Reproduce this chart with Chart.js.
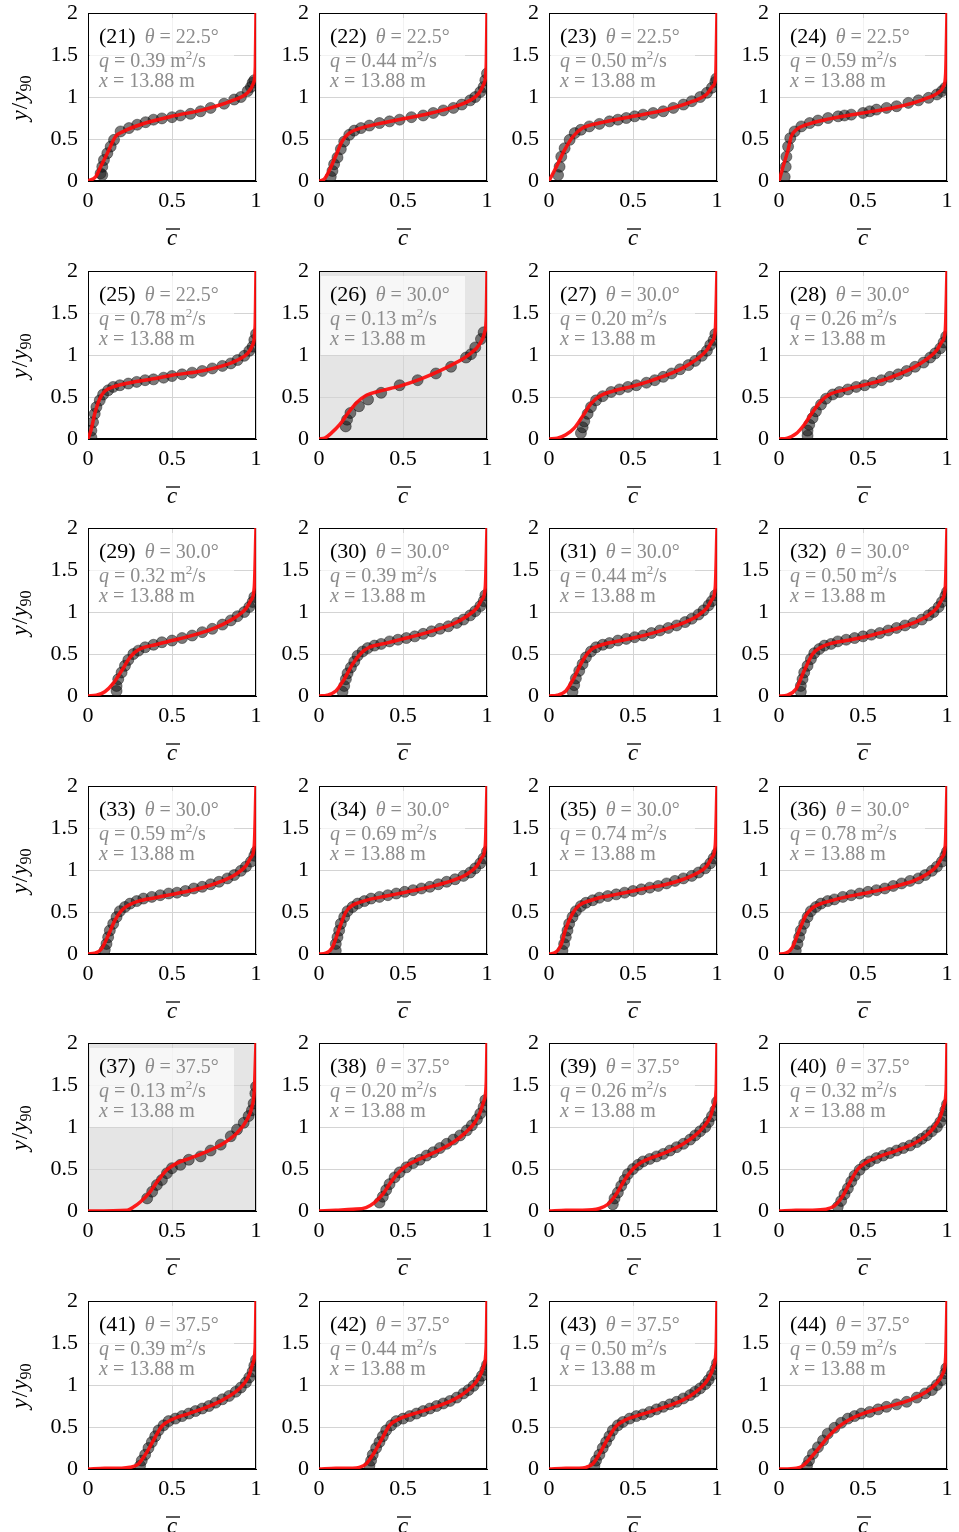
<!DOCTYPE html>
<html><head><meta charset="utf-8">
<script src="https://cdn.jsdelivr.net/npm/chart.js@4.4.0/dist/chart.umd.min.js"></script>
<style>
body{margin:0;background:#fff;width:959px;height:1532px;position:relative;overflow:hidden}
canvas{position:absolute}
</style></head><body>
<script>
// ---------- labels ----------
const panelIds = [21,22,23,24,25,26,27,28,29,30,31,32,33,34,35,36,37,38,39,40,41,42,43,44];
const thetas = ['22.5','22.5','22.5','22.5','22.5','30.0','30.0','30.0','30.0','30.0','30.0','30.0','30.0','30.0','30.0','30.0','37.5','37.5','37.5','37.5','37.5','37.5','37.5','37.5'];
const flowRates = ['0.39','0.44','0.50','0.59','0.78','0.13','0.20','0.26','0.32','0.39','0.44','0.50','0.59','0.69','0.74','0.78','0.13','0.20','0.26','0.32','0.39','0.44','0.50','0.59'];
const stations = Array(24).fill('13.88');
const greyPanels = [26, 37];
const xTicks = [0, 0.5, 1];
const yTicks = [0, 0.5, 1, 1.5, 2];

// ---------- red model curves (c, y/y90) ----------
const curve21 = [[0,0],[0.046,0.05],[0.075,0.17],[0.115,0.33],[0.164,0.53],[0.21,0.59],[0.31,0.67],[0.5,0.77],[0.69,0.85],[0.85,0.95],[0.95,1.05],[0.986,1.17],[0.996,1.36],[1,2]];
const curve22 = [[0,0],[0.03,0.02],[0.06,0.12],[0.1,0.3],[0.14,0.48],[0.18,0.57],[0.25,0.63],[0.35,0.68],[0.5,0.74],[0.65,0.8],[0.8,0.88],[0.9,0.96],[0.95,1.04],[0.98,1.15],[0.995,1.35],[1,2]];
const curve23 = [[0,0],[0.044,0.17],[0.093,0.37],[0.143,0.53],[0.2,0.63],[0.3,0.69],[0.5,0.77],[0.7,0.85],[0.857,0.95],[0.937,1.03],[0.976,1.13],[0.992,1.24],[1,2]];
const curve24 = [[0,0],[0.024,0.17],[0.054,0.37],[0.073,0.53],[0.103,0.61],[0.163,0.67],[0.3,0.74],[0.5,0.81],[0.7,0.88],[0.857,0.97],[0.946,1.05],[0.98,1.13],[0.992,1.28],[1,2]];
const curve25 = [[0,0],[0.02,0.12],[0.04,0.3],[0.07,0.48],[0.1,0.57],[0.15,0.62],[0.25,0.67],[0.4,0.72],[0.5,0.76],[0.65,0.8],[0.8,0.87],[0.9,0.95],[0.95,1.02],[0.98,1.12],[0.995,1.35],[1,2]];
const curve26 = [[0,0],[0.034,0.01],[0.073,0.07],[0.123,0.17],[0.173,0.31],[0.222,0.43],[0.282,0.52],[0.36,0.57],[0.48,0.63],[0.6,0.71],[0.718,0.81],[0.817,0.91],[0.897,1.01],[0.956,1.13],[0.986,1.27],[0.996,1.47],[1,2]];
const curve27 = [[0,0],[0.05,0.01],[0.1,0.05],[0.15,0.13],[0.2,0.27],[0.25,0.42],[0.3,0.51],[0.38,0.57],[0.5,0.63],[0.6,0.69],[0.7,0.76],[0.8,0.85],[0.88,0.95],[0.94,1.06],[0.97,1.16],[0.99,1.3],[1,2]];
const curve28 = [[0,0],[0.05,0.01],[0.1,0.06],[0.15,0.17],[0.2,0.32],[0.25,0.45],[0.3,0.53],[0.4,0.59],[0.5,0.64],[0.6,0.69],[0.7,0.76],[0.8,0.85],[0.88,0.95],[0.94,1.06],[0.97,1.16],[0.99,1.3],[1,2]];
const curve29 = [[0,0],[0.05,0.01],[0.1,0.05],[0.15,0.15],[0.2,0.3],[0.25,0.46],[0.3,0.55],[0.4,0.61],[0.5,0.66],[0.6,0.71],[0.7,0.77],[0.8,0.85],[0.88,0.94],[0.94,1.04],[0.97,1.14],[0.99,1.3],[1,2]];
const curve30 = [[0,0],[0.05,0.01],[0.1,0.06],[0.15,0.2],[0.2,0.38],[0.25,0.51],[0.3,0.58],[0.4,0.63],[0.5,0.68],[0.6,0.73],[0.7,0.79],[0.8,0.86],[0.88,0.95],[0.94,1.05],[0.97,1.15],[0.99,1.3],[1,2]];
const curve31 = [[0,0],[0.05,0.01],[0.1,0.06],[0.15,0.22],[0.2,0.42],[0.25,0.55],[0.3,0.6],[0.4,0.65],[0.5,0.69],[0.6,0.74],[0.7,0.8],[0.8,0.87],[0.88,0.95],[0.94,1.05],[0.97,1.15],[0.99,1.3],[1,2]];
const curve32 = [[0,0],[0.05,0.01],[0.1,0.08],[0.15,0.3],[0.2,0.5],[0.25,0.58],[0.3,0.62],[0.4,0.66],[0.5,0.7],[0.6,0.75],[0.7,0.8],[0.8,0.87],[0.88,0.95],[0.94,1.05],[0.97,1.15],[0.99,1.3],[1,2]];
const curve33 = [[0,0],[0.04,0.01],[0.08,0.06],[0.12,0.22],[0.16,0.4],[0.2,0.52],[0.25,0.59],[0.3,0.63],[0.4,0.67],[0.5,0.71],[0.6,0.75],[0.7,0.8],[0.8,0.87],[0.88,0.95],[0.94,1.05],[0.97,1.15],[0.99,1.3],[1,2]];
const curve34 = [[0,0],[0.04,0.01],[0.08,0.08],[0.12,0.3],[0.16,0.5],[0.2,0.58],[0.25,0.62],[0.3,0.65],[0.4,0.69],[0.5,0.73],[0.6,0.77],[0.7,0.82],[0.8,0.88],[0.88,0.95],[0.94,1.05],[0.97,1.15],[0.99,1.3],[1,2]];
const curve35 = [[0,0],[0.03,0.01],[0.07,0.1],[0.1,0.3],[0.14,0.48],[0.18,0.58],[0.25,0.64],[0.3,0.67],[0.4,0.71],[0.5,0.75],[0.6,0.79],[0.7,0.83],[0.8,0.89],[0.88,0.96],[0.94,1.05],[0.97,1.15],[0.99,1.3],[1,2]];
const curve36 = [[0,0],[0.04,0.01],[0.08,0.08],[0.12,0.28],[0.16,0.46],[0.2,0.55],[0.25,0.6],[0.3,0.63],[0.4,0.68],[0.5,0.72],[0.6,0.76],[0.7,0.81],[0.8,0.87],[0.88,0.95],[0.94,1.05],[0.97,1.15],[0.99,1.3],[1,2]];
const curve37 = [[0,0],[0.234,0.01],[0.273,0.05],[0.313,0.11],[0.362,0.21],[0.42,0.37],[0.47,0.49],[0.53,0.57],[0.61,0.63],[0.71,0.71],[0.81,0.81],[0.887,0.93],[0.947,1.09],[0.976,1.24],[0.99,1.44],[1,2]];
const curve38 = [[0,0],[0.1,0.01],[0.2,0.02],[0.28,0.04],[0.33,0.1],[0.38,0.2],[0.43,0.35],[0.48,0.47],[0.53,0.55],[0.6,0.62],[0.7,0.71],[0.8,0.82],[0.87,0.93],[0.93,1.06],[0.96,1.18],[0.98,1.3],[0.995,1.5],[1,2]];
const curve39 = [[0,0],[0.1,0.01],[0.2,0.01],[0.3,0.03],[0.35,0.08],[0.4,0.2],[0.45,0.37],[0.5,0.5],[0.55,0.58],[0.62,0.64],[0.7,0.7],[0.8,0.8],[0.87,0.9],[0.92,1.0],[0.96,1.12],[0.98,1.25],[0.995,1.45],[1,2]];
const curve40 = [[0,0],[0.1,0.01],[0.2,0.01],[0.28,0.02],[0.33,0.06],[0.38,0.18],[0.43,0.37],[0.47,0.5],[0.52,0.58],[0.6,0.65],[0.7,0.72],[0.8,0.8],[0.87,0.89],[0.92,0.99],[0.96,1.12],[0.98,1.25],[0.995,1.45],[1,2]];
const curve41 = [[0,0],[0.1,0.01],[0.2,0.01],[0.25,0.02],[0.3,0.06],[0.35,0.2],[0.4,0.38],[0.44,0.51],[0.5,0.59],[0.6,0.66],[0.7,0.73],[0.8,0.82],[0.88,0.92],[0.93,1.02],[0.96,1.12],[0.98,1.25],[0.995,1.45],[1,2]];
const curve42 = [[0,0],[0.1,0.01],[0.2,0.01],[0.24,0.02],[0.28,0.06],[0.33,0.2],[0.38,0.38],[0.42,0.52],[0.48,0.6],[0.55,0.65],[0.65,0.71],[0.75,0.78],[0.84,0.87],[0.9,0.96],[0.95,1.08],[0.98,1.22],[0.995,1.45],[1,2]];
const curve43 = [[0,0],[0.1,0.01],[0.18,0.01],[0.22,0.02],[0.26,0.06],[0.3,0.18],[0.35,0.36],[0.4,0.51],[0.45,0.58],[0.55,0.65],[0.65,0.71],[0.75,0.78],[0.84,0.87],[0.9,0.96],[0.95,1.08],[0.98,1.22],[0.995,1.45],[1,2]];
const curve44 = [[0,0],[0.103,0.01],[0.143,0.04],[0.183,0.12],[0.242,0.26],[0.3,0.4],[0.36,0.51],[0.42,0.59],[0.5,0.66],[0.64,0.74],[0.778,0.82],[0.877,0.92],[0.937,1.02],[0.976,1.14],[0.992,1.33],[1,2]];

// ---------- measured points (c, y/y90) ----------
const pts21 = [[0.075,0.09],[0.085,0.07],[0.085,0.17],[0.095,0.25],[0.115,0.33],[0.135,0.41],[0.155,0.49],[0.194,0.59],[0.244,0.63],[0.293,0.67],[0.343,0.7],[0.39,0.73],[0.44,0.745],[0.5,0.76],[0.55,0.78],[0.61,0.8],[0.67,0.83],[0.73,0.87],[0.81,0.92],[0.87,0.97],[0.91,1.0],[0.95,1.07],[0.97,1.12],[0.98,1.17],[0.99,1.2]];
const pts22 = [[0.07,0.05],[0.08,0.12],[0.09,0.2],[0.11,0.28],[0.13,0.38],[0.15,0.47],[0.18,0.55],[0.21,0.6],[0.25,0.63],[0.3,0.66],[0.36,0.69],[0.42,0.71],[0.48,0.73],[0.55,0.76],[0.62,0.78],[0.68,0.81],[0.74,0.84],[0.8,0.87],[0.85,0.91],[0.9,0.96],[0.93,1.0],[0.96,1.06],[0.98,1.12],[0.99,1.2],[1.0,1.28]];
const pts23 = [[0.054,0.07],[0.063,0.17],[0.073,0.29],[0.093,0.39],[0.123,0.49],[0.153,0.57],[0.19,0.61],[0.24,0.65],[0.3,0.68],[0.36,0.71],[0.41,0.73],[0.46,0.75],[0.51,0.77],[0.56,0.79],[0.62,0.81],[0.68,0.83],[0.74,0.87],[0.8,0.91],[0.85,0.95],[0.9,1.0],[0.94,1.05],[0.97,1.11],[0.99,1.18],[0.996,1.22]];
const pts24 = [[0.034,0.05],[0.04,0.17],[0.044,0.29],[0.054,0.41],[0.067,0.51],[0.093,0.59],[0.133,0.65],[0.183,0.69],[0.232,0.72],[0.292,0.75],[0.352,0.77],[0.39,0.78],[0.43,0.79],[0.5,0.81],[0.54,0.83],[0.58,0.85],[0.64,0.87],[0.7,0.89],[0.77,0.93],[0.83,0.96],[0.89,0.99],[0.94,1.03],[0.97,1.07],[0.99,1.11]];
const pts25 = [[0.02,0.02],[0.02,0.1],[0.03,0.2],[0.04,0.3],[0.05,0.38],[0.07,0.46],[0.09,0.53],[0.12,0.58],[0.15,0.62],[0.19,0.64],[0.24,0.66],[0.29,0.68],[0.34,0.7],[0.39,0.71],[0.45,0.73],[0.5,0.75],[0.56,0.77],[0.62,0.79],[0.68,0.81],[0.74,0.84],[0.8,0.87],[0.85,0.9],[0.89,0.94],[0.93,0.99],[0.96,1.05],[0.98,1.1],[0.99,1.18],[1.0,1.25]];
const pts26 = [[0.159,0.15],[0.167,0.23],[0.187,0.31],[0.238,0.39],[0.292,0.47],[0.37,0.55],[0.48,0.64],[0.587,0.7],[0.696,0.78],[0.786,0.86],[0.875,0.97],[0.905,1.01],[0.93,1.09],[0.964,1.19],[0.98,1.27]];
const pts27 = [[0.19,0.07],[0.2,0.14],[0.21,0.21],[0.23,0.3],[0.25,0.38],[0.28,0.46],[0.32,0.51],[0.37,0.56],[0.42,0.59],[0.47,0.62],[0.52,0.64],[0.58,0.67],[0.63,0.7],[0.68,0.74],[0.73,0.78],[0.78,0.83],[0.83,0.88],[0.87,0.93],[0.91,0.99],[0.94,1.05],[0.96,1.12],[0.98,1.18],[0.99,1.25]];
const pts28 = [[0.17,0.04],[0.17,0.1],[0.18,0.17],[0.2,0.25],[0.22,0.33],[0.25,0.41],[0.28,0.48],[0.32,0.53],[0.36,0.56],[0.41,0.59],[0.46,0.62],[0.51,0.64],[0.56,0.67],[0.61,0.7],[0.66,0.74],[0.71,0.77],[0.76,0.81],[0.81,0.86],[0.86,0.91],[0.9,0.97],[0.93,1.02],[0.96,1.08],[0.98,1.15],[0.995,1.22]];
const pts29 = [[0.17,0.06],[0.17,0.12],[0.18,0.2],[0.2,0.28],[0.22,0.36],[0.24,0.43],[0.27,0.5],[0.3,0.54],[0.34,0.58],[0.39,0.61],[0.44,0.64],[0.5,0.66],[0.56,0.69],[0.62,0.72],[0.68,0.76],[0.74,0.8],[0.8,0.85],[0.85,0.9],[0.89,0.95],[0.93,1.0],[0.96,1.06],[0.98,1.12],[0.99,1.18]];
const pts30 = [[0.14,0.05],[0.15,0.12],[0.16,0.2],[0.17,0.27],[0.19,0.34],[0.21,0.41],[0.23,0.48],[0.26,0.53],[0.29,0.57],[0.33,0.6],[0.37,0.62],[0.42,0.65],[0.47,0.67],[0.52,0.69],[0.57,0.71],[0.62,0.74],[0.67,0.77],[0.72,0.8],[0.77,0.83],[0.82,0.87],[0.86,0.91],[0.9,0.96],[0.93,1.01],[0.96,1.07],[0.98,1.13],[0.99,1.2]];
const pts31 = [[0.14,0.05],[0.15,0.13],[0.16,0.21],[0.18,0.3],[0.2,0.38],[0.22,0.46],[0.25,0.53],[0.28,0.58],[0.32,0.61],[0.36,0.63],[0.41,0.66],[0.46,0.68],[0.51,0.7],[0.56,0.72],[0.61,0.75],[0.66,0.78],[0.71,0.81],[0.76,0.84],[0.81,0.88],[0.85,0.92],[0.89,0.97],[0.92,1.02],[0.95,1.08],[0.97,1.13],[0.99,1.2]];
const pts32 = [[0.13,0.05],[0.13,0.12],[0.14,0.2],[0.15,0.28],[0.17,0.36],[0.19,0.44],[0.21,0.51],[0.24,0.56],[0.27,0.6],[0.31,0.62],[0.35,0.65],[0.4,0.67],[0.45,0.69],[0.5,0.71],[0.55,0.73],[0.6,0.75],[0.65,0.78],[0.7,0.81],[0.75,0.84],[0.8,0.87],[0.85,0.91],[0.89,0.96],[0.92,1.0],[0.95,1.06],[0.97,1.12],[0.99,1.19],[1.0,1.24]];
const pts33 = [[0.1,0.05],[0.11,0.12],[0.12,0.2],[0.13,0.28],[0.15,0.36],[0.17,0.44],[0.19,0.51],[0.22,0.56],[0.25,0.6],[0.29,0.63],[0.33,0.66],[0.38,0.68],[0.43,0.7],[0.48,0.72],[0.53,0.73],[0.58,0.75],[0.63,0.78],[0.68,0.8],[0.73,0.83],[0.78,0.86],[0.83,0.9],[0.87,0.94],[0.91,0.99],[0.94,1.04],[0.97,1.1],[0.99,1.17],[1.0,1.22]];
const pts34 = [[0.1,0.04],[0.1,0.12],[0.11,0.2],[0.12,0.28],[0.13,0.36],[0.15,0.44],[0.17,0.51],[0.2,0.56],[0.23,0.6],[0.27,0.63],[0.31,0.66],[0.36,0.68],[0.41,0.7],[0.46,0.72],[0.51,0.74],[0.56,0.76],[0.61,0.78],[0.66,0.8],[0.71,0.83],[0.76,0.86],[0.81,0.89],[0.86,0.93],[0.9,0.97],[0.93,1.02],[0.96,1.08],[0.98,1.14],[1.0,1.22]];
const pts35 = [[0.08,0.04],[0.09,0.12],[0.1,0.2],[0.11,0.28],[0.12,0.36],[0.14,0.44],[0.16,0.51],[0.19,0.57],[0.22,0.61],[0.26,0.64],[0.3,0.67],[0.35,0.69],[0.4,0.71],[0.45,0.73],[0.5,0.75],[0.55,0.77],[0.6,0.79],[0.65,0.81],[0.7,0.84],[0.75,0.87],[0.8,0.9],[0.85,0.93],[0.89,0.97],[0.93,1.02],[0.96,1.08],[0.98,1.14],[1.0,1.2]];
const pts36 = [[0.1,0.04],[0.11,0.12],[0.12,0.2],[0.13,0.28],[0.15,0.36],[0.17,0.44],[0.19,0.51],[0.22,0.56],[0.25,0.6],[0.29,0.63],[0.33,0.65],[0.38,0.68],[0.43,0.7],[0.48,0.72],[0.53,0.74],[0.58,0.76],[0.63,0.78],[0.68,0.81],[0.73,0.84],[0.78,0.87],[0.83,0.9],[0.87,0.94],[0.91,0.99],[0.94,1.04],[0.97,1.1],[0.99,1.17],[1.0,1.22]];
const pts37 = [[0.352,0.15],[0.382,0.23],[0.41,0.31],[0.44,0.37],[0.47,0.45],[0.5,0.51],[0.55,0.55],[0.6,0.61],[0.67,0.65],[0.73,0.72],[0.79,0.79],[0.85,0.89],[0.887,0.97],[0.927,1.05],[0.956,1.13],[0.976,1.2],[0.986,1.28],[0.996,1.4],[1.0,1.48]];
const pts38 = [[0.36,0.1],[0.38,0.17],[0.4,0.25],[0.42,0.32],[0.45,0.4],[0.48,0.46],[0.52,0.52],[0.56,0.57],[0.6,0.61],[0.64,0.66],[0.68,0.7],[0.72,0.75],[0.76,0.8],[0.8,0.85],[0.84,0.9],[0.88,0.96],[0.91,1.02],[0.94,1.09],[0.96,1.16],[0.98,1.24],[0.99,1.32]];
const pts39 = [[0.38,0.08],[0.39,0.15],[0.41,0.22],[0.43,0.3],[0.45,0.37],[0.47,0.44],[0.5,0.5],[0.53,0.55],[0.56,0.59],[0.6,0.62],[0.64,0.65],[0.68,0.68],[0.72,0.72],[0.76,0.76],[0.8,0.8],[0.84,0.85],[0.87,0.9],[0.9,0.95],[0.93,1.0],[0.95,1.06],[0.97,1.13],[0.99,1.2],[1.0,1.3]];
const pts40 = [[0.35,0.05],[0.37,0.12],[0.39,0.2],[0.41,0.27],[0.43,0.35],[0.45,0.42],[0.48,0.49],[0.51,0.55],[0.54,0.59],[0.58,0.63],[0.62,0.66],[0.66,0.69],[0.7,0.72],[0.74,0.75],[0.78,0.78],[0.82,0.82],[0.85,0.86],[0.88,0.9],[0.91,0.95],[0.94,1.0],[0.96,1.06],[0.98,1.13],[0.99,1.2],[1.0,1.27]];
const pts41 = [[0.31,0.04],[0.32,0.1],[0.34,0.17],[0.36,0.25],[0.38,0.32],[0.4,0.39],[0.42,0.46],[0.45,0.52],[0.48,0.57],[0.52,0.6],[0.56,0.63],[0.6,0.66],[0.64,0.69],[0.68,0.72],[0.72,0.75],[0.76,0.79],[0.8,0.83],[0.84,0.87],[0.88,0.92],[0.91,0.97],[0.94,1.03],[0.96,1.09],[0.98,1.16],[0.99,1.23],[1.0,1.3]];
const pts42 = [[0.3,0.04],[0.31,0.1],[0.32,0.17],[0.34,0.25],[0.36,0.32],[0.38,0.39],[0.4,0.46],[0.43,0.52],[0.46,0.57],[0.5,0.6],[0.54,0.63],[0.58,0.66],[0.62,0.69],[0.66,0.72],[0.7,0.75],[0.74,0.78],[0.78,0.81],[0.82,0.85],[0.86,0.9],[0.89,0.94],[0.92,0.99],[0.95,1.05],[0.97,1.11],[0.99,1.18],[1.0,1.24]];
const pts43 = [[0.27,0.04],[0.28,0.1],[0.3,0.17],[0.32,0.25],[0.34,0.32],[0.36,0.39],[0.38,0.46],[0.41,0.52],[0.44,0.56],[0.48,0.6],[0.52,0.63],[0.56,0.65],[0.6,0.68],[0.64,0.71],[0.68,0.74],[0.72,0.77],[0.76,0.8],[0.8,0.84],[0.84,0.88],[0.87,0.92],[0.9,0.96],[0.93,1.01],[0.95,1.06],[0.97,1.12],[0.99,1.19],[1.0,1.26]];
const pts44 = [[0.167,0.04],[0.179,0.1],[0.202,0.18],[0.232,0.26],[0.262,0.34],[0.29,0.42],[0.33,0.49],[0.37,0.55],[0.41,0.6],[0.45,0.63],[0.49,0.66],[0.54,0.68],[0.59,0.71],[0.64,0.74],[0.7,0.77],[0.76,0.8],[0.82,0.85],[0.87,0.9],[0.91,0.94],[0.94,1.0],[0.97,1.06],[0.99,1.14],[0.996,1.2]];

const curves = [curve21,curve22,curve23,curve24,curve25,curve26,curve27,curve28,curve29,curve30,curve31,curve32,curve33,curve34,curve35,curve36,curve37,curve38,curve39,curve40,curve41,curve42,curve43,curve44];
const points = [pts21,pts22,pts23,pts24,pts25,pts26,pts27,pts28,pts29,pts30,pts31,pts32,pts33,pts34,pts35,pts36,pts37,pts38,pts39,pts40,pts41,pts42,pts43,pts44];

// ---------- layout ----------
const colLefts = [88, 319, 549, 779];
const rowTops = [13, 271, 528, 786, 1043, 1301];
const PLOT = 168, AXW = 88, PADT = 13, PADR = 16, AXH = 76;
const SERIF = '"Liberation Serif","Times New Roman",serif';
const GREY = '#8c8c8c';

function drawRuns(ctx, x, y, runs) {
  for (const r of runs) {
    ctx.font = (r.it ? 'italic ' : '') + r.size + 'px ' + SERIF;
    ctx.fillStyle = r.color;
    ctx.fillText(r.t, x, y + (r.dy || 0));
    x += ctx.measureText(r.t).width + (r.gap || 0);
  }
  return x;
}

const panelPlugin = {
  id: 'panelDeco',
  beforeDraw(chart) {
    const o = chart.options.plugins.panelDeco;
    if (!o.grey) return;
    const a = chart.chartArea, ctx = chart.ctx;
    ctx.save();
    ctx.fillStyle = '#e5e5e5';
    ctx.fillRect(a.left, a.top, a.right - a.left, a.bottom - a.top);
    ctx.restore();
  },
  beforeDatasetsDraw(chart) {
    const o = chart.options.plugins.panelDeco;
    const a = chart.chartArea, ctx = chart.ctx;
    ctx.save();
    ctx.strokeStyle = '#000';
    ctx.lineWidth = 1;
    ctx.strokeRect(a.left + 0.5, a.top + 0.5, a.right - a.left - 1, a.bottom - a.top - 1);
    ctx.fillStyle = 'rgba(255,255,255,0.7)';
    ctx.fillRect(a.left + 2, a.top + 5, 144, 79);
    ctx.textBaseline = 'alphabetic';
    ctx.textAlign = 'left';
    const x0 = a.left + 11;
    drawRuns(ctx, x0, a.top + 30, [
      {t: '(' + o.id + ')', size: 22, color: '#000', gap: 9},
      {t: 'θ', it: true, size: 20, color: GREY},
      {t: ' = ' + o.theta + '°', size: 20, color: GREY}
    ]);
    drawRuns(ctx, x0, a.top + 54, [
      {t: 'q', it: true, size: 20, color: GREY},
      {t: ' = ' + o.q + ' m', size: 20, color: GREY},
      {t: '2', size: 13, dy: -8, color: GREY},
      {t: '/s', size: 20, color: GREY}
    ]);
    drawRuns(ctx, x0, a.top + 74, [
      {t: 'x', it: true, size: 20, color: GREY},
      {t: ' = ' + o.x + ' m', size: 20, color: GREY}
    ]);
    ctx.restore();
  },
  afterDraw(chart) {
    const o = chart.options.plugins.panelDeco;
    const a = chart.chartArea, ctx = chart.ctx;
    ctx.save();
    const cx = a.left + 84;
    ctx.fillStyle = '#000';
    ctx.font = 'italic 23px ' + SERIF;
    ctx.textAlign = 'center';
    ctx.textBaseline = 'alphabetic';
    ctx.fillText('c', cx, a.bottom + 64);
    ctx.strokeStyle = '#000';
    ctx.lineWidth = 1.3;
    ctx.beginPath();
    ctx.moveTo(cx - 6, a.bottom + 48);
    ctx.lineTo(cx + 8, a.bottom + 48);
    ctx.stroke();
    if (o.yLabel) {
      ctx.translate(21, (a.top + a.bottom) / 2 + 1);
      ctx.rotate(-Math.PI / 2);
      ctx.textAlign = 'left';
      const runs = [
        {t: 'y', it: true, size: 23, color: '#000', gap: 1},
        {t: '/', size: 23, color: '#000', gap: 1},
        {t: 'y', it: true, size: 23, color: '#000'},
        {t: '90', size: 16, dy: 4, color: '#000'}
      ];
      let w = 0;
      for (const r of runs) { ctx.font = (r.it ? 'italic ' : '') + r.size + 'px ' + SERIF; w += ctx.measureText(r.t).width + (r.gap || 0); }
      drawRuns(ctx, -w / 2, 6, runs);
    }
    ctx.restore();
  }
};

panelIds.forEach((id, i) => {
  const col = i % 4, row = Math.floor(i / 4);
  const cv = document.createElement('canvas');
  const W = AXW + PLOT + PADR, H = PADT + PLOT + AXH;
  cv.width = W; cv.height = H;
  cv.style.width = W + 'px'; cv.style.height = H + 'px';
  cv.style.left = (colLefts[col] - AXW) + 'px';
  cv.style.top = (rowTops[row] - PADT) + 'px';
  document.body.appendChild(cv);
  const tickFont = {family: SERIF, size: 22};
  new Chart(cv.getContext('2d'), {
    type: 'scatter',
    data: {
      datasets: [
        {
          data: curves[i].map(([x, y]) => ({x, y})),
          showLine: true, pointRadius: 0, borderColor: 'rgba(255,10,10,0.92)', borderWidth: 3.5,
          cubicInterpolationMode: 'monotone', order: 1
        },
        {
          data: points[i].map(([x, y]) => ({x, y})),
          pointRadius: 5.5, backgroundColor: 'rgba(25,25,25,0.58)', borderColor: 'rgba(0,0,0,0.4)',
          borderWidth: 1, order: 2
        }
      ]
    },
    options: {
      responsive: false, animation: false, devicePixelRatio: 1,
      layout: {padding: {top: PADT, right: PADR, left: 0, bottom: 0}},
      plugins: {
        legend: {display: false}, tooltip: {enabled: false},
        panelDeco: {id, theta: thetas[i], q: flowRates[i], x: stations[i], grey: greyPanels.includes(id), yLabel: col === 0}
      },
      scales: {
        x: {
          type: 'linear', min: 0, max: 1,
          afterBuildTicks: s => { s.ticks = xTicks.map(v => ({value: v})); },
          afterFit: s => { s.height = AXH; s.paddingLeft = 0; s.paddingRight = 0; },
          ticks: {font: tickFont, color: '#000', padding: 7, maxRotation: 0, callback: v => String(v)},
          grid: {color: '#d4d4d4', drawTicks: false, lineWidth: 1},
          border: {display: true, color: '#000'}
        },
        y: {
          type: 'linear', min: 0, max: 2,
          afterBuildTicks: s => { s.ticks = yTicks.map(v => ({value: v})); },
          afterFit: s => { s.width = AXW; s.paddingTop = 0; s.paddingBottom = 0; },
          ticks: {font: tickFont, color: '#000', padding: 10, callback: v => String(v)},
          grid: {color: '#d4d4d4', drawTicks: false, lineWidth: 1},
          border: {display: true, color: '#000'}
        }
      }
    },
    plugins: [panelPlugin]
  });
});
</script>
</body></html>
